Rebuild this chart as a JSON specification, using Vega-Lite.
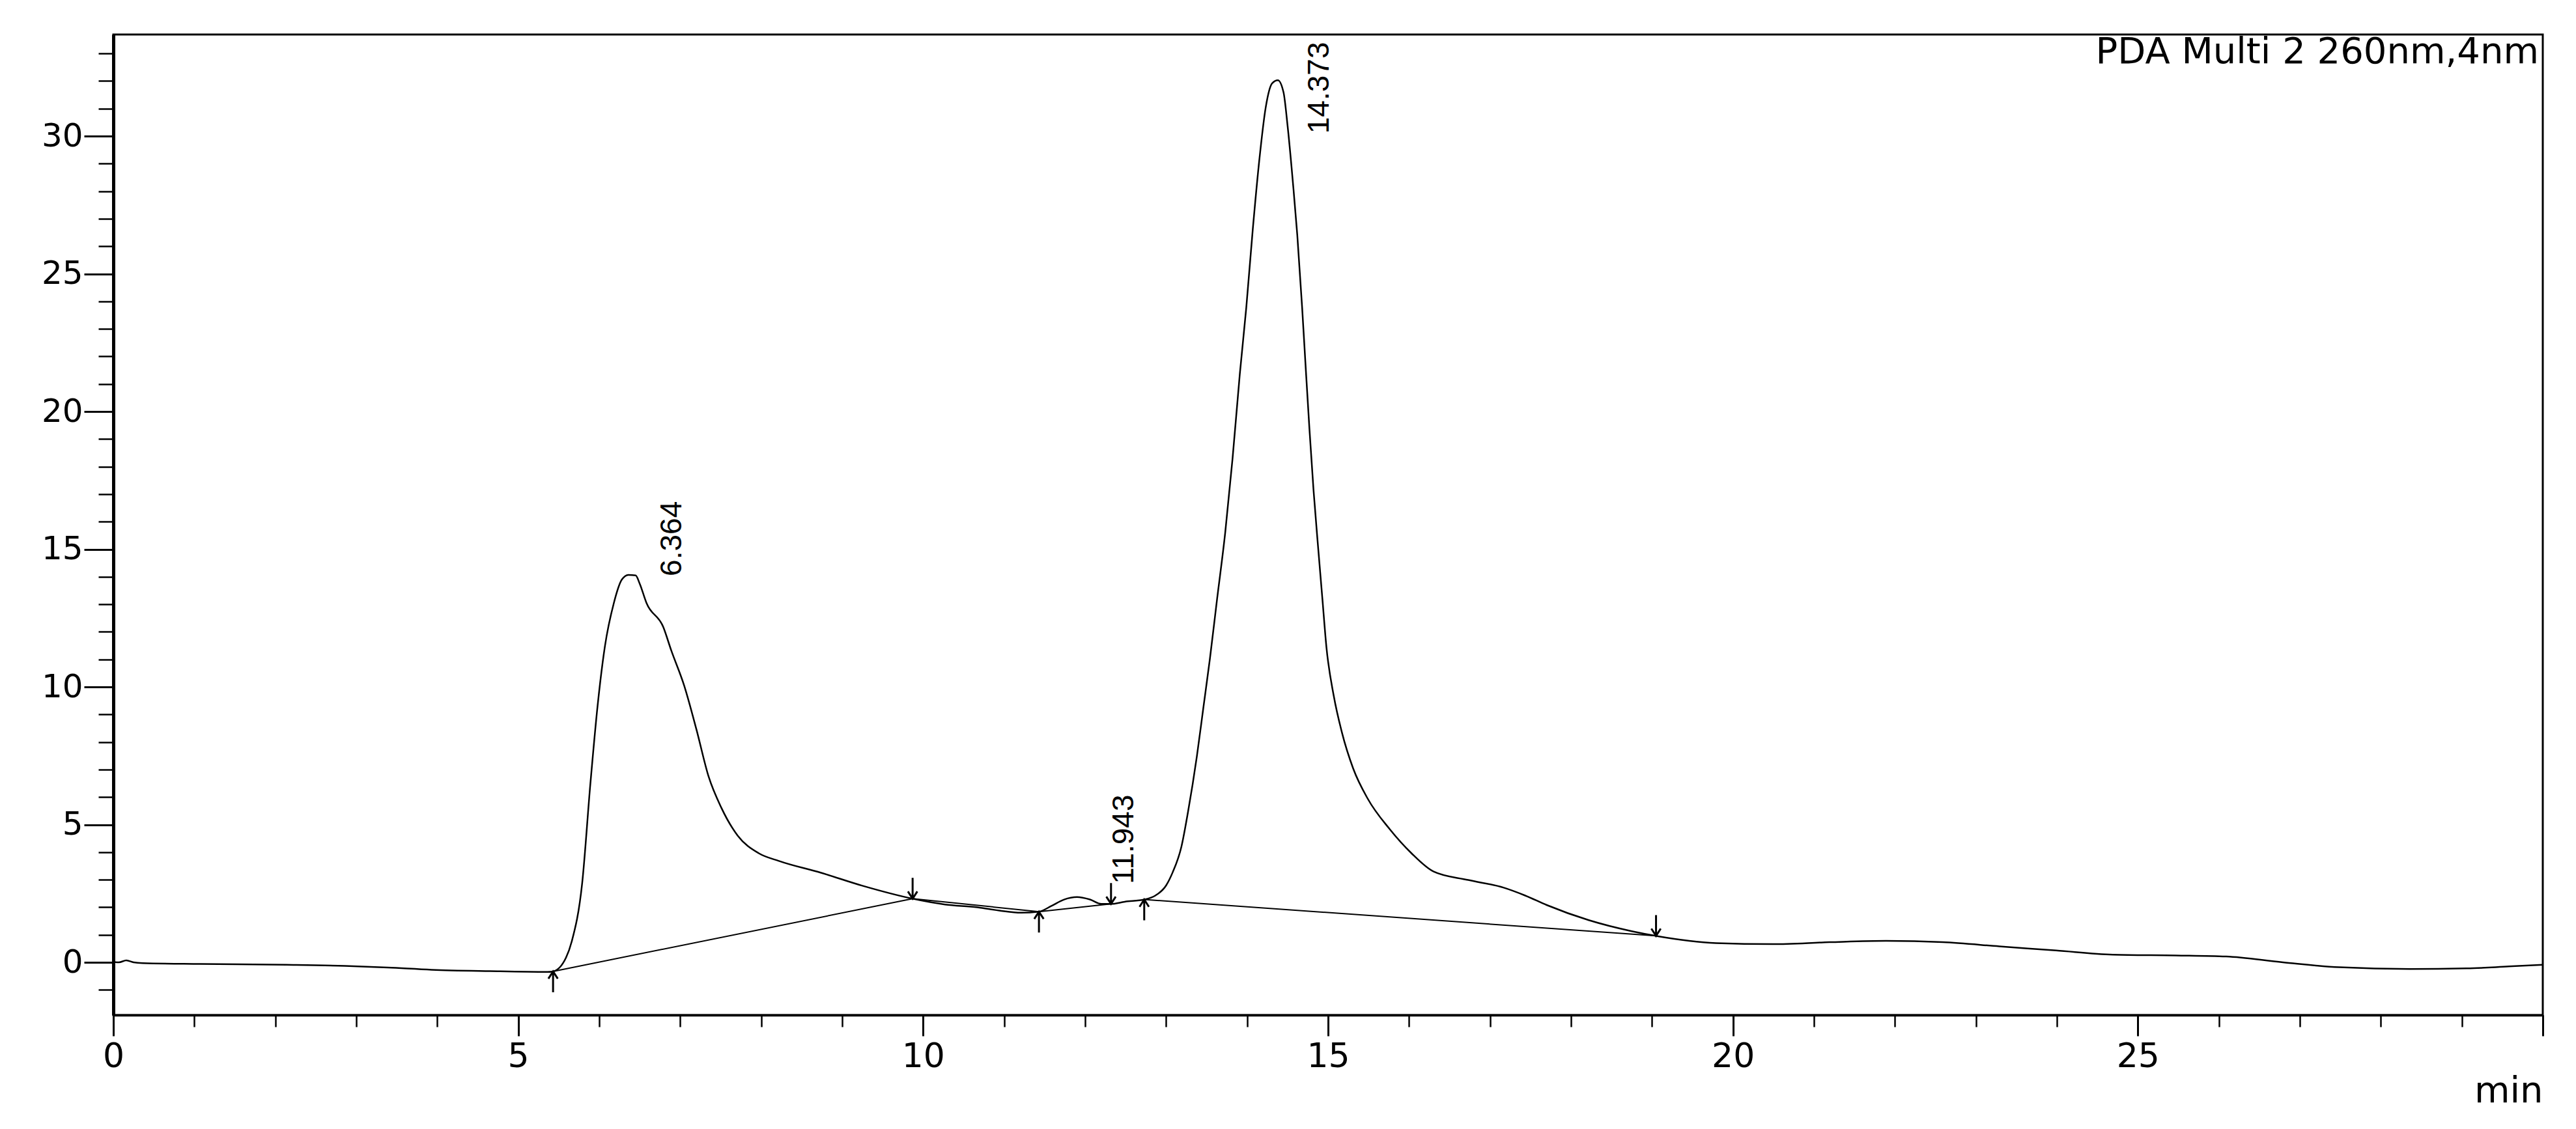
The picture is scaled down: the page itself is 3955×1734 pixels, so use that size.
{
  "$schema": "https://vega.github.io/schema/vega-lite/v6.json",
  "width": 3730,
  "height": 1506,
  "autosize": {"type": "none"},
  "padding": {"left": 174, "top": 53, "right": 51, "bottom": 175},
  "background": "white",
  "config": {"view": {"stroke": "black", "strokeWidth": 3}, "font": "DejaVu Sans"},
  "datasets": {
    "curve": [
      {"time": 0.0, "signal": 0.02}, {"time": 0.07, "signal": 0.0}, {"time": 0.16, "signal": 0.07}, {"time": 0.25, "signal": 0.0},
      {"time": 0.36, "signal": -0.03}, {"time": 1.07, "signal": -0.06}, {"time": 2.14, "signal": -0.09}, {"time": 2.86, "signal": -0.13},
      {"time": 3.39, "signal": -0.19}, {"time": 3.93, "signal": -0.27}, {"time": 4.65, "signal": -0.32}, {"time": 5.36, "signal": -0.35},
      {"time": 5.43, "signal": -0.33}, {"time": 5.59, "signal": 0.17}, {"time": 5.66, "signal": 0.75}, {"time": 5.79, "signal": 2.89},
      {"time": 5.89, "signal": 6.46}, {"time": 5.98, "signal": 9.32}, {"time": 6.07, "signal": 11.47}, {"time": 6.18, "signal": 13.04},
      {"time": 6.28, "signal": 13.9}, {"time": 6.36, "signal": 14.07}, {"time": 6.45, "signal": 14.05}, {"time": 6.5, "signal": 13.75},
      {"time": 6.585, "signal": 13.04}, {"time": 6.79, "signal": 12.18}, {"time": 6.89, "signal": 11.32}, {"time": 7.05, "signal": 10.04},
      {"time": 7.2, "signal": 8.46}, {"time": 7.35, "signal": 6.75}, {"time": 7.51, "signal": 5.6}, {"time": 7.71, "signal": 4.6},
      {"time": 7.97, "signal": 3.96}, {"time": 8.22, "signal": 3.68}, {"time": 8.74, "signal": 3.25}, {"time": 9.25, "signal": 2.78},
      {"time": 9.87, "signal": 2.31}, {"time": 10.27, "signal": 2.1}, {"time": 10.67, "signal": 2.0}, {"time": 10.94, "signal": 1.88},
      {"time": 11.21, "signal": 1.8}, {"time": 11.43, "signal": 1.84}, {"time": 11.58, "signal": 2.04}, {"time": 11.74, "signal": 2.28},
      {"time": 11.9, "signal": 2.37}, {"time": 12.06, "signal": 2.28}, {"time": 12.2, "signal": 2.12}, {"time": 12.32, "signal": 2.12},
      {"time": 12.49, "signal": 2.2}, {"time": 12.73, "signal": 2.28}, {"time": 12.87, "signal": 2.43}, {"time": 13.0, "signal": 2.79},
      {"time": 13.08, "signal": 3.26}, {"time": 13.19, "signal": 4.21}, {"time": 13.27, "signal": 5.45}, {"time": 13.38, "signal": 7.48},
      {"time": 13.46, "signal": 9.24}, {"time": 13.54, "signal": 11.0}, {"time": 13.63, "signal": 13.2}, {"time": 13.73, "signal": 15.6},
      {"time": 13.82, "signal": 18.27}, {"time": 13.91, "signal": 21.35}, {"time": 13.99, "signal": 23.77}, {"time": 14.07, "signal": 26.6},
      {"time": 14.15, "signal": 29.1}, {"time": 14.23, "signal": 31.04}, {"time": 14.31, "signal": 31.92}, {"time": 14.38, "signal": 32.03},
      {"time": 14.45, "signal": 31.59}, {"time": 14.5, "signal": 30.38}, {"time": 14.57, "signal": 28.18}, {"time": 14.62, "signal": 26.41},
      {"time": 14.68, "signal": 23.77}, {"time": 14.72, "signal": 21.79}, {"time": 14.77, "signal": 19.37}, {"time": 14.82, "signal": 17.17},
      {"time": 14.88, "signal": 14.97}, {"time": 14.93, "signal": 13.2}, {"time": 14.98, "signal": 11.44}, {"time": 15.07, "signal": 9.68},
      {"time": 15.17, "signal": 8.36}, {"time": 15.31, "signal": 7.04}, {"time": 15.49, "signal": 5.94}, {"time": 15.76, "signal": 4.84},
      {"time": 16.03, "signal": 3.96}, {"time": 16.3, "signal": 3.3}, {"time": 16.73, "signal": 2.99}, {"time": 17.17, "signal": 2.71},
      {"time": 17.43, "signal": 2.43}, {"time": 17.7, "signal": 2.08}, {"time": 18.22, "signal": 1.53}, {"time": 18.75, "signal": 1.13},
      {"time": 19.05, "signal": 0.96}, {"time": 19.79, "signal": 0.7}, {"time": 20.49, "signal": 0.66}, {"time": 21.19, "signal": 0.73},
      {"time": 21.89, "signal": 0.78}, {"time": 22.59, "signal": 0.73}, {"time": 23.29, "signal": 0.58}, {"time": 23.99, "signal": 0.43},
      {"time": 24.69, "signal": 0.28}, {"time": 25.47, "signal": 0.25}, {"time": 26.09, "signal": 0.21}, {"time": 26.79, "signal": 0.0},
      {"time": 27.49, "signal": -0.18}, {"time": 28.36, "signal": -0.24}, {"time": 29.06, "signal": -0.22}, {"time": 29.58, "signal": -0.15},
      {"time": 30.0, "signal": -0.09}
    ],
    "baseline": [
      {"segment": 1, "time": 5.43, "signal": -0.33}, {"segment": 1, "time": 9.87, "signal": 2.31},
      {"segment": 2, "time": 9.87, "signal": 2.31}, {"segment": 2, "time": 11.43, "signal": 1.84},
      {"segment": 3, "time": 11.43, "signal": 1.84}, {"segment": 3, "time": 12.32, "signal": 2.12},
      {"segment": 4, "time": 12.73, "signal": 2.28}, {"segment": 4, "time": 19.05, "signal": 0.96}
    ],
    "markers": [
      {"time": 5.43, "signal": -0.33, "kind": "start"},
      {"time": 9.87, "signal": 2.31, "kind": "end"},
      {"time": 11.43, "signal": 1.84, "kind": "start"},
      {"time": 12.32, "signal": 2.12, "kind": "end"},
      {"time": 12.73, "signal": 2.28, "kind": "start"},
      {"time": 19.05, "signal": 0.96, "kind": "end"}
    ],
    "peaks": [
      {"rt": 6.364, "height": 14.07, "label": "6.364"},
      {"rt": 11.943, "height": 2.37, "label": "11.943"},
      {"rt": 14.373, "height": 32.03, "label": "14.373"}
    ],
    "detector": [
      {"name": "PDA Multi 2 260nm,4nm"}
    ]
  },
  "resolve": {"axis": {"x": "independent", "y": "independent"}},
  "layer": [
    {
      "data": {"name": "baseline"},
      "mark": {"type": "line", "color": "black", "strokeWidth": 2},
      "encoding": {
        "x": {"field": "time", "type": "quantitative", "scale": {"domain": [0, 30], "nice": false, "zero": false},
              "axis": {"orient": "bottom", "values": [0,1,2,3,4,5,6,7,8,9,10,11,12,13,14,15,16,17,18,19,20,21,22,23,24,25,26,27,28,29,30], "tickSize": 18, "tickWidth": 2.5, "tickColor": "black", "labels": false, "domain": false, "grid": false, "title": null}},
        "y": {"field": "signal", "type": "quantitative", "scale": {"domain": [-1.915, 33.69], "nice": false, "zero": false},
              "axis": {"orient": "left", "values": [-1,0,1,2,3,4,5,6,7,8,9,10,11,12,13,14,15,16,17,18,19,20,21,22,23,24,25,26,27,28,29,30,31,32,33], "tickSize": 23, "tickWidth": 2.5, "tickColor": "black", "labels": false, "domain": false, "grid": false, "title": null}},
        "detail": {"field": "segment", "type": "nominal"}
      }
    },
    {
      "data": {"name": "curve"},
      "mark": {"type": "line", "color": "black", "strokeWidth": 2.5, "interpolate": "monotone"},
      "encoding": {
        "x": {"field": "time", "type": "quantitative", "scale": {"domain": [0, 30], "nice": false, "zero": false},
              "axis": {"orient": "bottom", "values": [0,5,10,15,20,25,30], "labelExpr": "datum.value == 30 ? '' : datum.label", "tickSize": 32, "tickWidth": 3, "tickColor": "black",
                       "labelFont": "DejaVu Sans", "labelFontSize": 52, "labelColor": "black", "labelPadding": 6, "labelFlush": false, "labelOverlap": false,
                       "domain": true, "domainColor": "black", "domainWidth": 3.5, "grid": false,
                       "title": "min", "titleFont": "DejaVu Sans", "titleFontSize": 56, "titleFontWeight": "normal", "titleColor": "black",
                       "titleX": 3730, "titleY": 133, "titleAlign": "right", "titleBaseline": "alphabetic", "titleAnchor": "end"}},
        "y": {"field": "signal", "type": "quantitative", "scale": {"domain": [-1.915, 33.69], "nice": false, "zero": false},
              "axis": {"orient": "left", "values": [0,5,10,15,20,25,30], "tickSize": 45, "tickWidth": 3, "tickColor": "black",
                       "labelFont": "DejaVu Sans", "labelFontSize": 50, "labelColor": "black", "labelPadding": 2, "labelFlush": false, "labelOverlap": false,
                       "domain": true, "domainColor": "black", "domainWidth": 5, "grid": false, "title": null}}
      }
    },
    {
      "data": {"name": "markers"},
      "mark": {"type": "point", "filled": false, "opacity": 1, "strokeWidth": 3, "color": "black", "size": 256},
      "encoding": {
        "x": {"field": "time", "type": "quantitative", "scale": {"domain": [0, 30], "nice": false, "zero": false}, "axis": null},
        "y": {"field": "signal", "type": "quantitative", "scale": {"domain": [-1.915, 33.69], "nice": false, "zero": false}, "axis": null},
        "shape": {"field": "kind", "type": "nominal", "scale": {"domain": ["start", "end"], "range": ["M0,0L0,4M-0.9,1.4L0,0L0.9,1.4", "M0,0L0,-4M-0.9,-1.4L0,0L0.9,-1.4"]}, "legend": null}
      }
    },
    {
      "data": {"name": "peaks"},
      "transform": [{"filter": "datum.label == '6.364'"}],
      "mark": {"type": "text", "angle": 270, "align": "left", "baseline": "alphabetic", "dx": -2, "dy": 81, "font": "Liberation Sans", "fontSize": 46, "color": "black"},
      "encoding": {
        "x": {"field": "rt", "type": "quantitative", "scale": {"domain": [0, 30], "nice": false, "zero": false}, "axis": null},
        "y": {"field": "height", "type": "quantitative", "scale": {"domain": [-1.915, 33.69], "nice": false, "zero": false}, "axis": null},
        "text": {"field": "label", "type": "nominal"}
      }
    },
    {
      "data": {"name": "peaks"},
      "transform": [{"filter": "datum.label == '11.943'"}],
      "mark": {"type": "text", "angle": 270, "align": "left", "baseline": "alphabetic", "dx": 20, "dy": 81, "font": "Liberation Sans", "fontSize": 46, "color": "black"},
      "encoding": {
        "x": {"field": "rt", "type": "quantitative", "scale": {"domain": [0, 30], "nice": false, "zero": false}, "axis": null},
        "y": {"field": "height", "type": "quantitative", "scale": {"domain": [-1.915, 33.69], "nice": false, "zero": false}, "axis": null},
        "text": {"field": "label", "type": "nominal"}
      }
    },
    {
      "data": {"name": "peaks"},
      "transform": [{"filter": "datum.label == '14.373'"}],
      "mark": {"type": "text", "angle": 270, "align": "left", "baseline": "alphabetic", "dx": -82, "dy": 79, "font": "Liberation Sans", "fontSize": 46, "color": "black"},
      "encoding": {
        "x": {"field": "rt", "type": "quantitative", "scale": {"domain": [0, 30], "nice": false, "zero": false}, "axis": null},
        "y": {"field": "height", "type": "quantitative", "scale": {"domain": [-1.915, 33.69], "nice": false, "zero": false}, "axis": null},
        "text": {"field": "label", "type": "nominal"}
      }
    },
    {
      "data": {"name": "detector"},
      "mark": {"type": "text", "align": "right", "baseline": "alphabetic", "dx": -6, "dy": 44, "font": "DejaVu Sans", "fontSize": 56, "color": "black"},
      "encoding": {
        "x": {"value": "width"},
        "y": {"value": 0},
        "text": {"field": "name", "type": "nominal"}
      }
    }
  ]
}
